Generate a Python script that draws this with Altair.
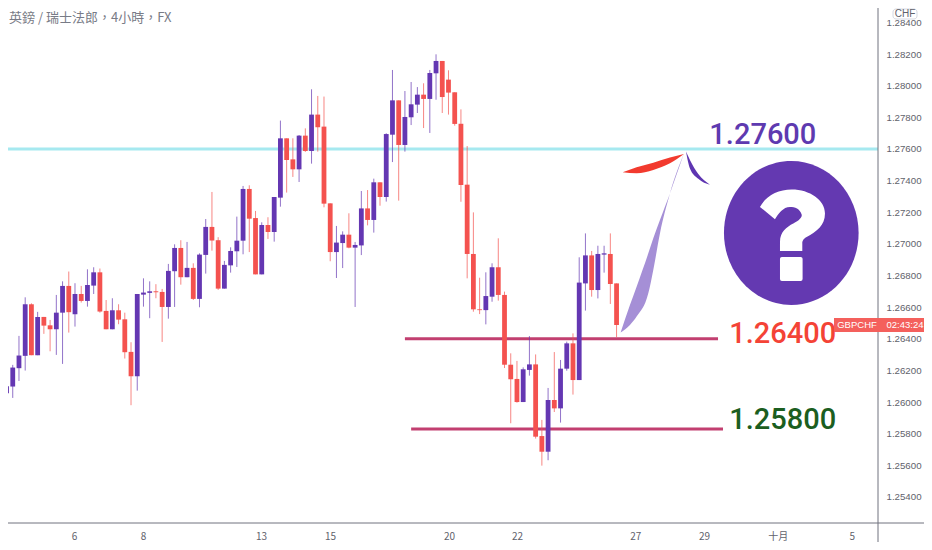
import altair as alt
import pandas as pd

opens = [1.25868,1.26056,1.26098,1.26214,1.26292,1.26618,1.26296,1.26538,1.26485,1.26460,
1.26565,1.26734,1.26555,1.26683,1.26639,1.26736,1.26820,1.26576,1.26460,1.26580,
1.26523,1.26317,1.26163,1.26679,1.26690,1.26700,1.26696,1.26601,1.26827,1.26974,
1.26789,1.26848,1.26652,1.26930,1.27107,1.27023,1.26717,1.26864,1.26953,1.27020,
1.27347,1.27163,1.26807,1.27119,1.27075,1.27292,1.27667,1.27534,1.27471,1.27684,
1.27587,1.27817,1.27741,1.27256,1.26948,1.27005,1.27058,1.26976,1.26990,1.27224,
1.27151,1.27389,1.27296,1.27690,1.27907,1.27625,1.27800,1.27880,1.27943,1.27916,
1.28078,1.28156,1.28038,1.27958,1.27759,1.27374,1.26936,1.26586,1.26581,1.26666,
1.26852,1.26677,1.26236,1.26146,1.26000,1.26203,1.26238,1.25785,1.25686,1.26013,
1.25960,1.26211,1.26371,1.26139,1.26750,1.26927,1.26708,1.26932,1.26936,1.26750]
highs = [1.26114,1.26133,1.26235,1.26418,1.26662,1.26624,1.26570,1.26538,1.26519,1.26677,
1.26763,1.26825,1.26751,1.26734,1.26839,1.26852,1.26844,1.26645,1.26656,1.26618,
1.26565,1.26378,1.26683,1.26782,1.26763,1.26745,1.26715,1.26873,1.26997,1.27023,
1.27012,1.26877,1.26940,1.27157,1.27328,1.27042,1.26892,1.26978,1.27172,1.27366,
1.27370,1.27208,1.27136,1.27168,1.27296,1.27779,1.27667,1.27667,1.27688,1.27730,
1.27977,1.27935,1.27931,1.27256,1.27113,1.27079,1.27193,1.27012,1.27334,1.27340,
1.27412,1.27389,1.27699,1.28099,1.27907,1.27966,1.28023,1.27991,1.28015,1.28099,
1.28198,1.28156,1.28097,1.27958,1.27850,1.27618,1.27199,1.26786,1.26820,1.26877,
1.27035,1.26698,1.26308,1.26260,1.26219,1.26417,1.26301,1.25887,1.26089,1.26316,
1.26266,1.26382,1.26434,1.26915,1.27066,1.26955,1.26988,1.26988,1.27066,1.26750]
lows = [1.25855,1.26049,1.26026,1.26133,1.26199,1.26296,1.26296,1.26431,1.26321,1.26298,
1.26241,1.26439,1.26477,1.26629,1.26603,1.26683,1.26565,1.26460,1.26460,1.26492,
1.26275,1.25980,1.26072,1.26603,1.26530,1.26656,1.26380,1.26527,1.26601,1.26742,
1.26789,1.26645,1.26599,1.26812,1.26957,1.26709,1.26717,1.26818,1.26854,1.26934,
1.26948,1.26807,1.26807,1.27031,1.27014,1.27235,1.27324,1.27423,1.27391,1.27581,
1.27507,1.27583,1.27231,1.26890,1.26784,1.26847,1.26972,1.26601,1.26929,1.27117,
1.27071,1.27241,1.27267,1.27517,1.27273,1.27583,1.27751,1.27827,1.27732,1.27701,
1.27911,1.27827,1.27817,1.27747,1.27266,1.26782,1.26571,1.26556,1.26491,1.26634,
1.26641,1.26215,1.25866,1.25996,1.26000,1.26167,1.25769,1.25598,1.25632,1.25937,
1.25870,1.26198,1.26047,1.26139,1.26578,1.26666,1.26655,1.26818,1.26620,1.26409]
closes = [1.26057,1.26100,1.26218,1.26294,1.26618,1.26296,1.26538,1.26483,1.26460,1.26565,
1.26734,1.26568,1.26683,1.26639,1.26740,1.26820,1.26572,1.26460,1.26580,1.26521,
1.26315,1.26163,1.26683,1.26692,1.26700,1.26694,1.26601,1.26829,1.26974,1.26789,
1.26848,1.26652,1.26932,1.27107,1.27021,1.26717,1.26867,1.26955,1.27020,1.27347,
1.27159,1.26807,1.27119,1.27075,1.27296,1.27667,1.27530,1.27471,1.27684,1.27587,
1.27817,1.27737,1.27254,1.26948,1.27008,1.27058,1.26976,1.26993,1.27224,1.27151,
1.27389,1.27296,1.27694,1.27907,1.27625,1.27802,1.27882,1.27943,1.27916,1.28080,
1.28156,1.27928,1.27956,1.27758,1.27372,1.26936,1.26586,1.26581,1.26670,1.26852,
1.26677,1.26236,1.26144,1.26000,1.26207,1.26238,1.25781,1.25686,1.26013,1.25960,
1.26211,1.26371,1.26139,1.26755,1.26927,1.26708,1.26936,1.26940,1.26746,1.26487]

x_tick_pos = [11.84, 22.92, 41.88, 52.97, 72.08, 83.0, 102.0, 113.05, 124.9, 136.8]
x_tick_labels = ["6", "8", "13", "15", "20", "22", "27", "29", "十月", "5"]
y_ticks = [1.254, 1.256, 1.258, 1.26, 1.262, 1.264, 1.266, 1.268, 1.27, 1.272, 1.274, 1.276, 1.278, 1.28, 1.282, 1.284]

level_prices = [1.264, 1.2583]
level_start = [65.0, 66.0]
level_end = [115.3, 116.1]

red_i = [99.98, 102.22, 104.9, 107.58, 109.83]
red_hi = [1.27452, 1.27484, 1.27513, 1.27545, 1.27568]
red_lo = [1.27452, 1.27446, 1.27467, 1.27509, 1.27568]
dark_i = [110.15, 110.79, 112.13, 114.0]
dark_hi = [1.27583, 1.27530, 1.27441, 1.27374]
dark_lo = [1.27583, 1.27477, 1.27412, 1.27374]
light_i = [99.65, 101.15, 102.22, 104.1, 104.9, 105.97, 107.58, 109.83]
light_hi = [1.26439, 1.26613, 1.26729, 1.26940, 1.27035, 1.27151, 1.27319, 1.27572]
light_lo = [1.26439, 1.26487, 1.26540, 1.26687, 1.26835, 1.27066, 1.27319, 1.27572]

note_texts = ["1.27600", "1.26400", "1.25800"]
note_i = [122.5, 125.7, 125.7]
note_price = [1.27685, 1.26427, 1.25887]
note_colors = ["#5e3ab0", "#f44336", "#1b5e20"]

PURPLE = "#6437b2"
RED = "#f4524f"

n = len(opens)
df = pd.DataFrame({"i": list(range(n)), "o": opens, "h": highs, "l": lows, "c": closes})
df["top"] = df[["o", "c"]].max(axis=1)
df["bot"] = df[["o", "c"]].min(axis=1)
df["col"] = [PURPLE if c >= o else RED for o, c in zip(opens, closes)]

label_expr = "{}[indexof({}, datum.value)]".format(
    str(x_tick_labels).replace(" ", ""), str(x_tick_pos).replace(" ", ""))

xscale = alt.Scale(domain=[1.237, 141.0], nice=False, zero=False, padding=0)
yscale = alt.Scale(domain=[1.252354, 1.284908], nice=False, zero=False, padding=0)
xaxis = alt.Axis(values=x_tick_pos, labelExpr=label_expr, title=None, grid=False, ticks=False,
                 domain=False, labelPadding=8, labelFontSize=10, labelColor="#5f626c",
                 labelFont="Noto Sans CJK TC", labelOverlap=False, labelFlush=False)
yaxis = alt.Axis(values=y_ticks, format=".5f", orient="right", title=None, grid=False, ticks=False,
                 domain=False, labelPadding=8, labelFontSize=9.7, labelColor="#5f626c",
                 labelFont="Liberation Sans", labelOverlap=False, labelFlush=False)


def X(f):
    return alt.X(f, type="quantitative", scale=xscale, axis=xaxis)


def Y(f):
    return alt.Y(f, type="quantitative", scale=yscale, axis=yaxis)


one = alt.Data(values=[{"a": 1}])

cyan = alt.Chart(alt.Data(values=[{"p": 1.276}])).mark_rule(color="#a6e9f0", strokeWidth=3).encode(
    y=Y("p"), x=alt.value(0), x2=alt.value(870))

levels = alt.Chart(pd.DataFrame({"p": level_prices, "a": level_start, "b": level_end})).mark_rule(
    color="#c23f70", strokeWidth=3).encode(y=Y("p"), x=X("a"), x2="b")

wicks = alt.Chart(df).mark_rule(strokeWidth=1, opacity=0.7, clip=True).encode(
    x=X("i"), y=Y("h"), y2="l", color=alt.Color("col:N", scale=None))
bodies = alt.Chart(df).mark_bar(size=4.8, clip=True).encode(
    x=X("i"), y=Y("top"), y2="bot", color=alt.Color("col:N", scale=None))


def swoosh(xs, hi, lo, color):
    d = pd.DataFrame({"i": xs, "hi": hi, "lo": lo})
    return alt.Chart(d).mark_area(color=color, interpolate="monotone").encode(x=X("i"), y=Y("hi"), y2="lo")


red_sw = swoosh(red_i, red_hi, red_lo, "#f23a2e")
dark_sw = swoosh(dark_i, dark_hi, dark_lo, "#5e35b1")
light_sw = swoosh(light_i, light_hi, light_lo, "#a58fd6")

notes = alt.Chart(pd.DataFrame({"t": note_texts, "i": note_i, "p": note_price, "col": note_colors})).mark_text(
    font="Roboto", fontSize=29, fontWeight=500, align="center", baseline="middle").encode(
    x=X("i"), y=Y("p"), text="t:N", color=alt.Color("col:N", scale=None))

ELLIPSE = "M-.935,0 A.935,1 0 1,1 .935,0 A.935,1 0 1,1 -.935,0 Z"
QMARK = ("M-.435,-.361 C-.343,-.523 -.181,-.602 .005,-.602 C.259,-.602 .468,-.454 .468,-.269 "
         "C.468,-.106 .352,-.014 .213,.056 C.157,.088 .153,.12 .153,.148 L.153,.25 L-.157,.25 L-.157,.125 "
         "C-.157,-.014 -.065,-.083 .028,-.13 C.12,-.176 .153,-.222 .144,-.255 C.12,-.338 .051,-.361 -.019,-.361 "
         "C-.111,-.361 -.181,-.269 -.227,-.19 Z "
         "M-.157,.36 Q-.157,.333 -.13,.333 L.13,.333 Q.157,.333 .157,.36 L.157,.64 Q.157,.667 .13,.667 "
         "L-.13,.667 Q-.157,.667 -.157,.64 Z")
icon_pos = alt.Data(values=[{"i": 127.07, "p": 1.27069}])
circle = alt.Chart(icon_pos).mark_point(shape=ELLIPSE, filled=True, size=20736, color="#6439b1", opacity=1).encode(
    x=X("i"), y=Y("p"))
qmark = alt.Chart(icon_pos).mark_point(shape=QMARK, filled=True, size=20736, color="#ffffff", opacity=1).encode(
    x=X("i"), y=Y("p"))

axis_v = alt.Chart(one).mark_rule(color="#70737e", strokeWidth=1).encode(
    x=alt.value(870), y=alt.value(0), y2=alt.value(534))
axis_h = alt.Chart(one).mark_rule(color="#70737e", strokeWidth=1).encode(
    y=alt.value(515), x=alt.value(0), x2=alt.value(916))

tag = alt.Chart(one).mark_rect(color="#f4605c").encode(
    y=alt.value(310), y2=alt.value(324), x=alt.value(826), x2=alt.value(916))
tag_a = alt.Chart(one).mark_text(text="GBPCHF", font="Liberation Sans", fontSize=9.5, color="#ffffff",
                                 align="center", baseline="middle").encode(x=alt.value(849), y=alt.value(317))
tag_b = alt.Chart(one).mark_text(text="02:43:24", font="Liberation Sans", fontSize=9.5, color="#ffffff",
                                 align="center", baseline="middle").encode(x=alt.value(897), y=alt.value(317))

chf_box = alt.Chart(one).mark_rect(fill="#ffffff", stroke="#d6d9e2", cornerRadius=3).encode(
    x=alt.value(885), x2=alt.value(909), y=alt.value(1), y2=alt.value(11))
chf_text = alt.Chart(one).mark_text(text="CHF", font="Liberation Sans", fontSize=10, color="#5f626c",
                                    align="center", baseline="middle").encode(x=alt.value(897), y=alt.value(6))
title = alt.Chart(one).mark_text(text="英鎊 / 瑞士法郎，4小時，FX", font="Noto Sans CJK TC", fontSize=13,
                                 color="#787b86", align="left", baseline="middle").encode(
    x=alt.value(1), y=alt.value(10))

chart = alt.layer(
    cyan, levels, wicks, bodies, light_sw, red_sw, dark_sw, circle, qmark, notes,
    axis_v, axis_h, tag, tag_a, tag_b, chf_box, chf_text, title
).properties(width=870, height=515, background="#ffffff",
             autosize=alt.AutoSizeParams(type="none"),
             padding={"left": 0, "top": 0, "right": 46, "bottom": 19}).configure_view(strokeWidth=0)

chart.save("out.html", embed_options={"renderer": "svg", "actions": False})
